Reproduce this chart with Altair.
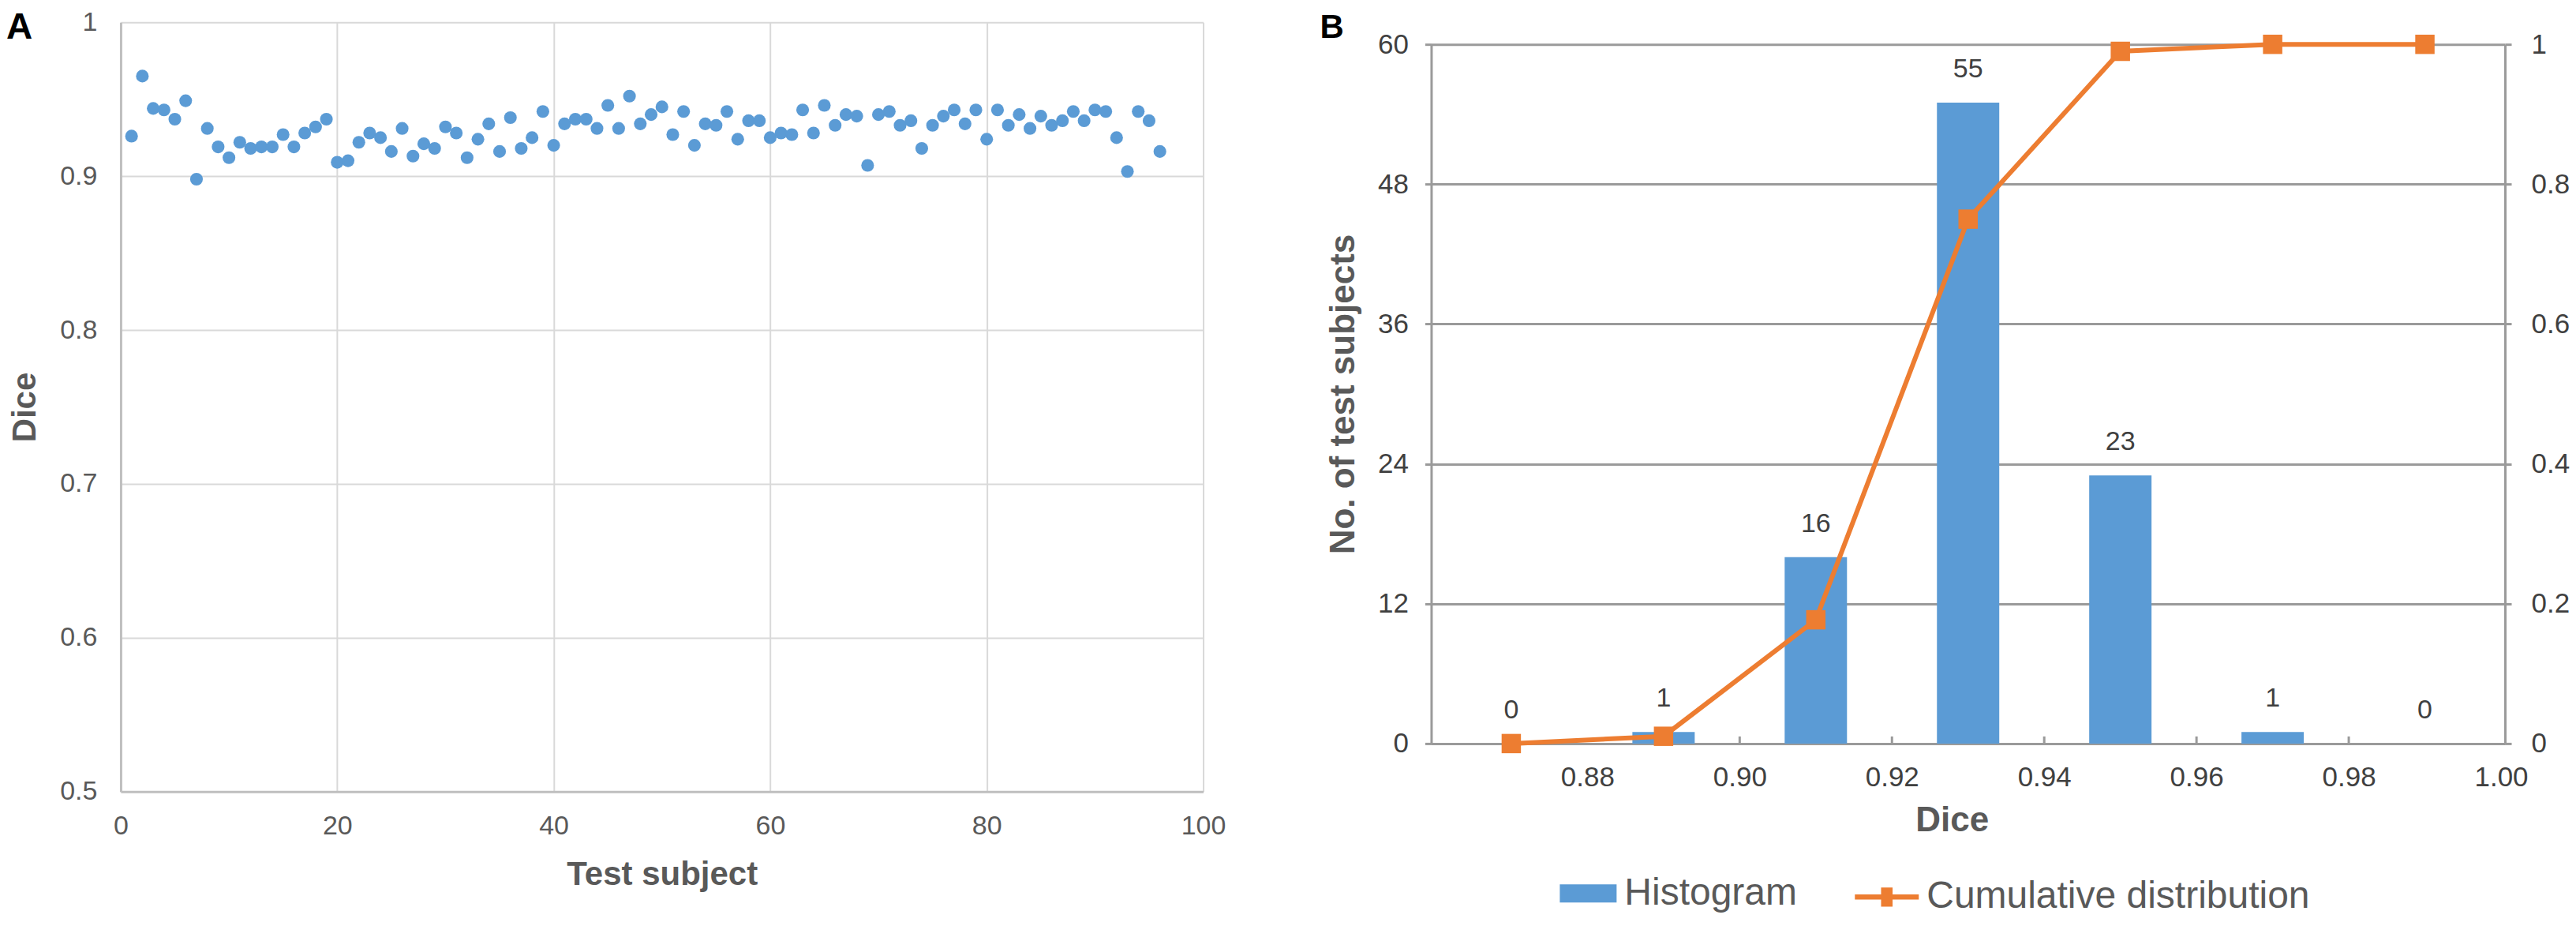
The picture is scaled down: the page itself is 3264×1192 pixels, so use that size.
import altair as alt
import pandas as pd

FONT = "Liberation Sans"

# ---------------- Panel A data ----------------
subject = list(range(1, 97))
dice = [0.926, 0.965, 0.944, 0.943, 0.937, 0.949, 0.898, 0.931, 0.919, 0.912,
        0.922, 0.918, 0.919, 0.919, 0.927, 0.919, 0.928, 0.932, 0.937, 0.909,
        0.910, 0.922, 0.928, 0.925, 0.916, 0.931, 0.913, 0.921, 0.918, 0.932,
        0.928, 0.912, 0.924, 0.934, 0.916, 0.938, 0.918, 0.925, 0.942, 0.920,
        0.934, 0.937, 0.937, 0.931, 0.946, 0.931, 0.952, 0.934, 0.940, 0.945,
        0.927, 0.942, 0.920, 0.934, 0.933, 0.942, 0.924, 0.936, 0.936, 0.925,
        0.928, 0.927, 0.943, 0.928, 0.946, 0.933, 0.940, 0.939, 0.907, 0.940,
        0.942, 0.933, 0.936, 0.918, 0.933, 0.939, 0.943, 0.934, 0.943, 0.924,
        0.943, 0.933, 0.940, 0.931, 0.939, 0.933, 0.936, 0.942, 0.936, 0.943,
        0.942, 0.925, 0.903, 0.942, 0.936, 0.916]
a_x_ticks = [0, 20, 40, 60, 80, 100]
a_y_ticks = [0.5, 0.6, 0.7, 0.8, 0.9, 1.0]

# ---------------- Panel B data ----------------
bin_centers = [0.87, 0.89, 0.91, 0.93, 0.95, 0.97, 0.99]
counts = [0, 1, 16, 55, 23, 1, 0]
cumulative = [0.0, 0.0104, 0.177, 0.75, 0.99, 1.0, 1.0]
b_x_ticks = [0.88, 0.90, 0.92, 0.94, 0.96, 0.98, 1.00]
b_inner_ticks = [0.90, 0.92, 0.94, 0.96, 0.98]
b_left_ticks = [0, 12, 24, 36, 48, 60]
b_right_ticks = [0, 0.2, 0.4, 0.6, 0.8, 1.0]
series_names = ["Histogram", "Cumulative distribution"]
panel_labels = ["A", "B"]

BLUE = "#5b9bd5"
ORANGE = "#ed7d31"
GRID_A = "#d9d9d9"
GRID_B = "#9a9a9a"
TXT = "#595959"

# ================= Panel A =================
dfA = pd.DataFrame({"subject": subject, "dice": dice})
WA, HA = 1372, 975

pointsA = alt.Chart(dfA).mark_circle(size=260, color=BLUE, opacity=1).encode(
    x=alt.X("subject:Q",
            scale=alt.Scale(domain=[0, 100], nice=False),
            axis=alt.Axis(values=a_x_ticks, title="Test subject", labelFontSize=34,
                          labelColor=TXT, labelFont=FONT, labelPadding=27, ticks=False,
                          labelFlush=False, domainColor="#bfbfbf", domainWidth=3,
                          grid=True, gridColor=GRID_A, gridWidth=2,
                          titleFont=FONT, titleFontSize=42, titleFontWeight="bold",
                          titleColor=TXT, titlePadding=24)),
    y=alt.Y("dice:Q",
            scale=alt.Scale(domain=[0.5, 1.0], nice=False, zero=False),
            axis=alt.Axis(values=a_y_ticks, format="~g", title="Dice", labelFontSize=34,
                          labelColor=TXT, labelFont=FONT, labelPadding=30, ticks=False,
                          labelFlush=False, domainColor="#bfbfbf", domainWidth=3,
                          grid=True, gridColor=GRID_A, gridWidth=2,
                          titleFont=FONT, titleFontSize=42, titleFontWeight="bold",
                          titleColor=TXT, titlePadding=22)),
)

labelA = alt.Chart(pd.DataFrame({"lab": [panel_labels[0]]})).mark_text(
    font=FONT, fontSize=46, fontWeight="bold", color="black", align="left",
    baseline="alphabetic"
).encode(text="lab:N", x=alt.value(-145), y=alt.value(21))

panelA = alt.layer(pointsA, labelA).properties(width=WA, height=HA)

# ================= Panel B =================
WB = 1361
TOP = 28          # empty band above the plot area of panel B
HB = 886 + TOP
dfB = pd.DataFrame({
    "center": bin_centers,
    "count": counts,
    "cum": cumulative,
    "hist": [series_names[0]] * len(bin_centers),
    "cdist": [series_names[1]] * len(bin_centers),
})
dfT = pd.DataFrame({"center": b_inner_ticks})

xB_scale = alt.Scale(domain=[0.86, 1.0], nice=False, zero=False)
xB = alt.X("center:Q", scale=xB_scale,
           axis=alt.Axis(values=b_x_ticks, format=".2f", title="Dice", labelFontSize=35,
                         labelColor="#404040", labelFont=FONT, labelPadding=26, ticks=False,
                         labelFlush=False, domainColor=GRID_B, domainWidth=3, grid=False,
                         titleFont=FONT, titleFontSize=44, titleFontWeight="bold",
                         titleColor=TXT, titlePadding=15, titleX=660))
yB_scale = alt.Scale(domain=[0, 60], nice=False, range=[HB, TOP])
y2_scale = alt.Scale(domain=[0, 1], nice=False, range=[HB, TOP])

rect_path = "M-1,-0.32H1V0.32H-1Z"
line_path = "M-1,-0.08H-0.18V-0.3H0.18V-0.08H1V0.08H0.18V0.3H-0.18V0.08H-1Z"

legend_common = dict(orient="none", title=None, labelFontSize=48, labelFont=FONT,
                     labelColor=TXT, labelOffset=10, labelLimit=0, padding=0)

bars = alt.Chart(dfB).mark_bar(size=79).encode(
    x=xB,
    y=alt.Y("count:Q", scale=yB_scale,
            axis=alt.Axis(values=b_left_ticks, title="No. of test subjects", labelFontSize=35,
                          labelColor="#404040", labelFont=FONT, labelPadding=21,
                          ticks=True, tickSize=8, tickColor=GRID_B, tickWidth=3,
                          labelFlush=False, domainColor=GRID_B, domainWidth=3,
                          grid=True, gridColor=GRID_B, gridWidth=3,
                          titleFont=FONT, titleFontSize=44, titleFontWeight="bold",
                          titleColor=TXT, titlePadding=21)),
    color=alt.Color("hist:N", scale=alt.Scale(domain=[series_names[0]], range=[BLUE]),
                    legend=alt.Legend(legendX=163, legendY=1068, symbolType=rect_path,
                                      symbolSize=5184, symbolStrokeWidth=0,
                                      **legend_common)),
)

count_labels = alt.Chart(dfB).mark_text(
    dy=-42, fontSize=34, font=FONT, color="#404040", baseline="middle"
).encode(
    x=xB,
    y=alt.Y("count:Q", scale=yB_scale, axis=None),
    text="count:Q",
)

inner_ticks = alt.Chart(dfT).mark_rule(color=GRID_B, strokeWidth=3).encode(
    x=xB,
    y=alt.value(HB),
    y2=alt.value(HB - 9),
)

cum_line = alt.Chart(dfB).mark_line(strokeWidth=6).encode(
    x=xB,
    y=alt.Y("cum:Q", scale=y2_scale,
            axis=alt.Axis(orient="right", values=b_right_ticks, format="~g", title=None,
                          labelFontSize=35, labelColor="#404040", labelFont=FONT,
                          labelPadding=25, ticks=True, tickSize=8, tickColor=GRID_B,
                          tickWidth=3, labelFlush=False, domainColor=GRID_B,
                          domainWidth=3, grid=False)),
    stroke=alt.Stroke("cdist:N", scale=alt.Scale(domain=[series_names[1]], range=[ORANGE]),
                      legend=alt.Legend(legendX=537, legendY=1068, symbolType=line_path,
                                        symbolSize=6561, symbolFillColor=ORANGE,
                                        symbolStrokeWidth=0, **legend_common)),
)

cum_points = alt.Chart(dfB).mark_point(shape="square", filled=True, size=600,
                                       color=ORANGE, opacity=1).encode(
    x=xB,
    y=alt.Y("cum:Q", scale=y2_scale, axis=None),
)

labelB = alt.Chart(pd.DataFrame({"lab": [panel_labels[1]]})).mark_text(
    font=FONT, fontSize=42, fontWeight="bold", color="black", align="left",
    baseline="alphabetic"
).encode(text="lab:N", x=alt.value(-141), y=alt.value(20))

panelB = alt.layer(bars, inner_ticks, count_labels, cum_line, cum_points, labelB).resolve_scale(
    y="independent"
).properties(width=WB, height=HB)

chart = alt.hconcat(panelA, panelB, spacing=119).resolve_scale(
    color="independent", stroke="independent"
).configure(padding={"top": 3, "left": 0, "right": 0, "bottom": 0}).configure_view(stroke=None)

chart.save("out.html", embed_options={"renderer": "svg", "actions": False})
